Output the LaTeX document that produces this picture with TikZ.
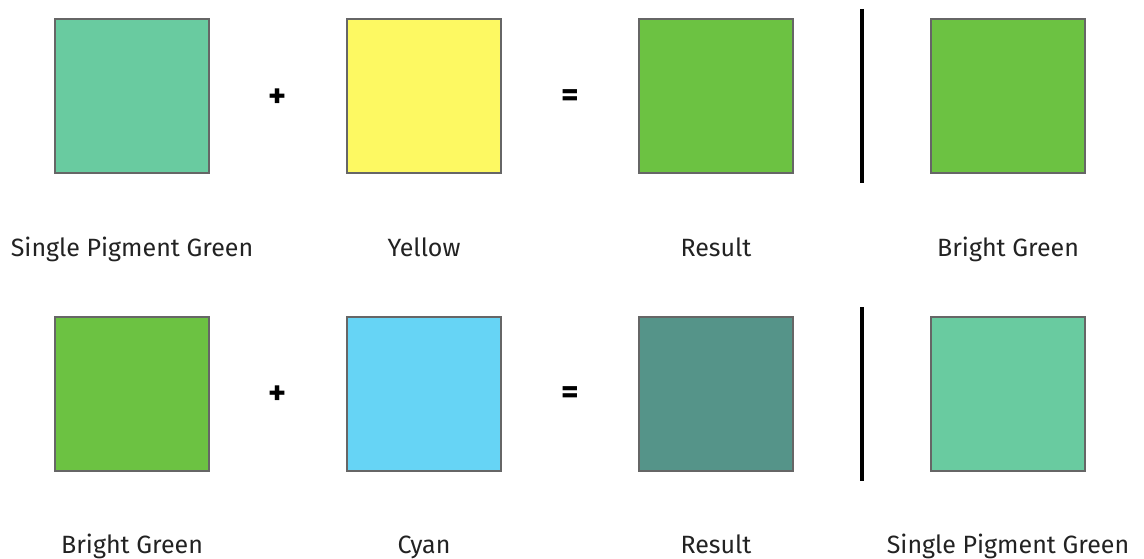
\documentclass[tikz,border=0pt]{standalone}
\usepackage{fontspec}
\setmainfont{Fira Sans}
\definecolor{pigment}{HTML}{69CBA0}
\definecolor{yel}{HTML}{FDF962}
\definecolor{bright}{HTML}{6CC242}
\definecolor{cyn}{HTML}{66D4F5}
\definecolor{teal}{HTML}{559489}
\definecolor{edge}{HTML}{666666}
\definecolor{txt}{HTML}{222222}
\begin{document}
\begin{tikzpicture}[
    x=1pt, y=-1pt,
    swatch/.style={draw=edge, line width=2pt, minimum size=154pt, inner sep=0pt},
    label/.style={text=txt, font=\fontsize{25}{30}\selectfont, inner sep=0pt, anchor=base},
    op/.style={font=\bfseries\fontsize{34}{40}\selectfont, inner sep=0pt}
]
  \useasboundingbox (0,0) rectangle (1144,559);

  % top row
  \node[swatch, fill=pigment] (A1) at (132,96)  {};
  \node[swatch, fill=yel]     (B1) at (424,96)  {};
  \node[swatch, fill=bright]  (C1) at (716,96)  {};
  \node[swatch, fill=bright]  (D1) at (1008,96) {};
  \node[op] (P1) at (278,98) {+};
  \node[op] (E1) at (570,98) {=};
  \coordinate (S1a) at (862,9);
  \coordinate (S1b) at (862,183);
  \draw[line width=4pt] (S1a) -- (S1b);

  \node[label] (LA1) at (132,256)  {Single Pigment Green};
  \node[label] (LB1) at (424,256)  {Yellow};
  \node[label] (LC1) at (716,256)  {Result};
  \node[label] (LD1) at (1008,256) {Bright Green};

  % bottom row
  \node[swatch, fill=bright] (A2) at (132,394)  {};
  \node[swatch, fill=cyn]    (B2) at (424,394)  {};
  \node[swatch, fill=teal]   (C2) at (716,394)  {};
  \node[swatch, fill=pigment](D2) at (1008,394) {};
  \node[op] (P2) at (278,395) {+};
  \node[op] (E2) at (570,395) {=};
  \coordinate (S2a) at (862,307);
  \coordinate (S2b) at (862,481);
  \draw[line width=4pt] (S2a) -- (S2b);

  \node[label] (LA2) at (132,553)  {Bright Green};
  \node[label] (LB2) at (424,553)  {Cyan};
  \node[label] (LC2) at (716,553)  {Result};
  \node[label] (LD2) at (1008,553) {Single Pigment Green};
\end{tikzpicture}
\end{document}
